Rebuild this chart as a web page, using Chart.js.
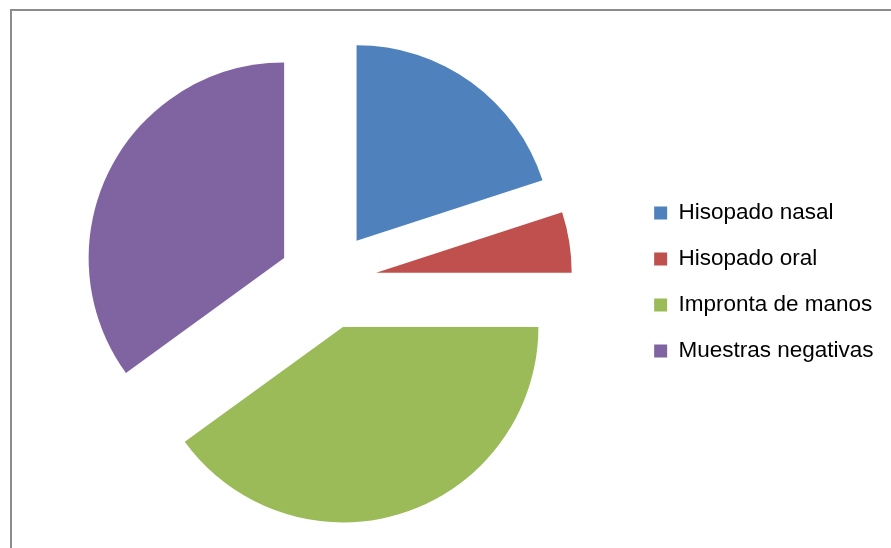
<!DOCTYPE html>
<html lang="es">
<head>
    <meta charset="UTF-8">
    <title>Muestras</title>
    <script src="https://cdn.jsdelivr.net/npm/chart.js"></script>
    <style>
        body { margin: 0; background: #fff; }
        .marco { position: absolute; left: 10px; top: 9px; width: 900px; height: 560px;
                 border-left: 2px solid #8c8c8c; border-top: 2px solid #8c8c8c; }
        .caja { position: absolute; left: 0; top: 0; width: 891px; height: 548px; }
    </style>
</head>
<body>
    <div class="marco"></div>
    <div class="caja">
        <canvas id="myChart" width="891" height="548"></canvas>
    </div>
<script>
    // datos (porcentaje)
    const categorias = ['Hisopado nasal', 'Hisopado oral', 'Impronta de manos', 'Muestras negativas']
    const valores = [20, 5, 40, 35]
    const colores = ['#4F81BD', '#C0504D', '#9BBB59', '#8064A2']

    // porcion separada: se traslada todo el offset, sin agrandar el radio
    class ArcSeparado extends Chart.ArcElement {
        draw(ctx) {
            const {x, y, startAngle, endAngle, outerRadius} =
                this.getProps(['x', 'y', 'startAngle', 'endAngle', 'outerRadius'])
            const o = this.options
            const off = o.offset || 0
            const mitad = (startAngle + endAngle) / 2
            ctx.save()
            ctx.translate(Math.cos(mitad) * off, Math.sin(mitad) * off)
            ctx.beginPath()
            ctx.moveTo(x, y)
            ctx.arc(x, y, outerRadius, startAngle, endAngle)
            ctx.closePath()
            ctx.fillStyle = o.backgroundColor
            ctx.fill()
            ctx.restore()
        }
    }
    ArcSeparado.id = 'arcSeparado'
    ArcSeparado.defaults = Object.assign({}, Chart.ArcElement.defaults)
    ArcSeparado.defaultRoutes = Chart.ArcElement.defaultRoutes

    class PieSeparado extends Chart.PieController {}
    PieSeparado.id = 'pieSeparado'
    PieSeparado.defaults = { dataElementType: 'arcSeparado' }
    PieSeparado.overrides = Chart.PieController.overrides

    Chart.register(ArcSeparado, PieSeparado)

    const config = {
        type: 'pieSeparado',
        data: {
            labels: categorias,
            datasets: [{
                data: valores,
                backgroundColor: colores,
                borderWidth: 0,
                offset: 49,
                hoverOffset: 0
            }]
        },
        options: {
            responsive: false,
            animation: false,
            radius: 195.5,
            layout: { padding: { left: 24.9, right: 7.5, top: 12.6, bottom: 0 } },
            plugins: {
                tooltip: { enabled: false },
                legend: {
                    position: 'right',
                    title: { display: true, text: ' ', padding: 0, font: { size: 3, lineHeight: 1.2 } },
                    labels: {
                        boxWidth: 13,
                        boxHeight: 13,
                        padding: 23.5,
                        color: '#000',
                        font: { family: 'Liberation Sans', size: 22.5 }
                    }
                }
            }
        }
    }

    let myChart = new Chart(document.getElementById('myChart'), config)
</script>
</body>
</html>
